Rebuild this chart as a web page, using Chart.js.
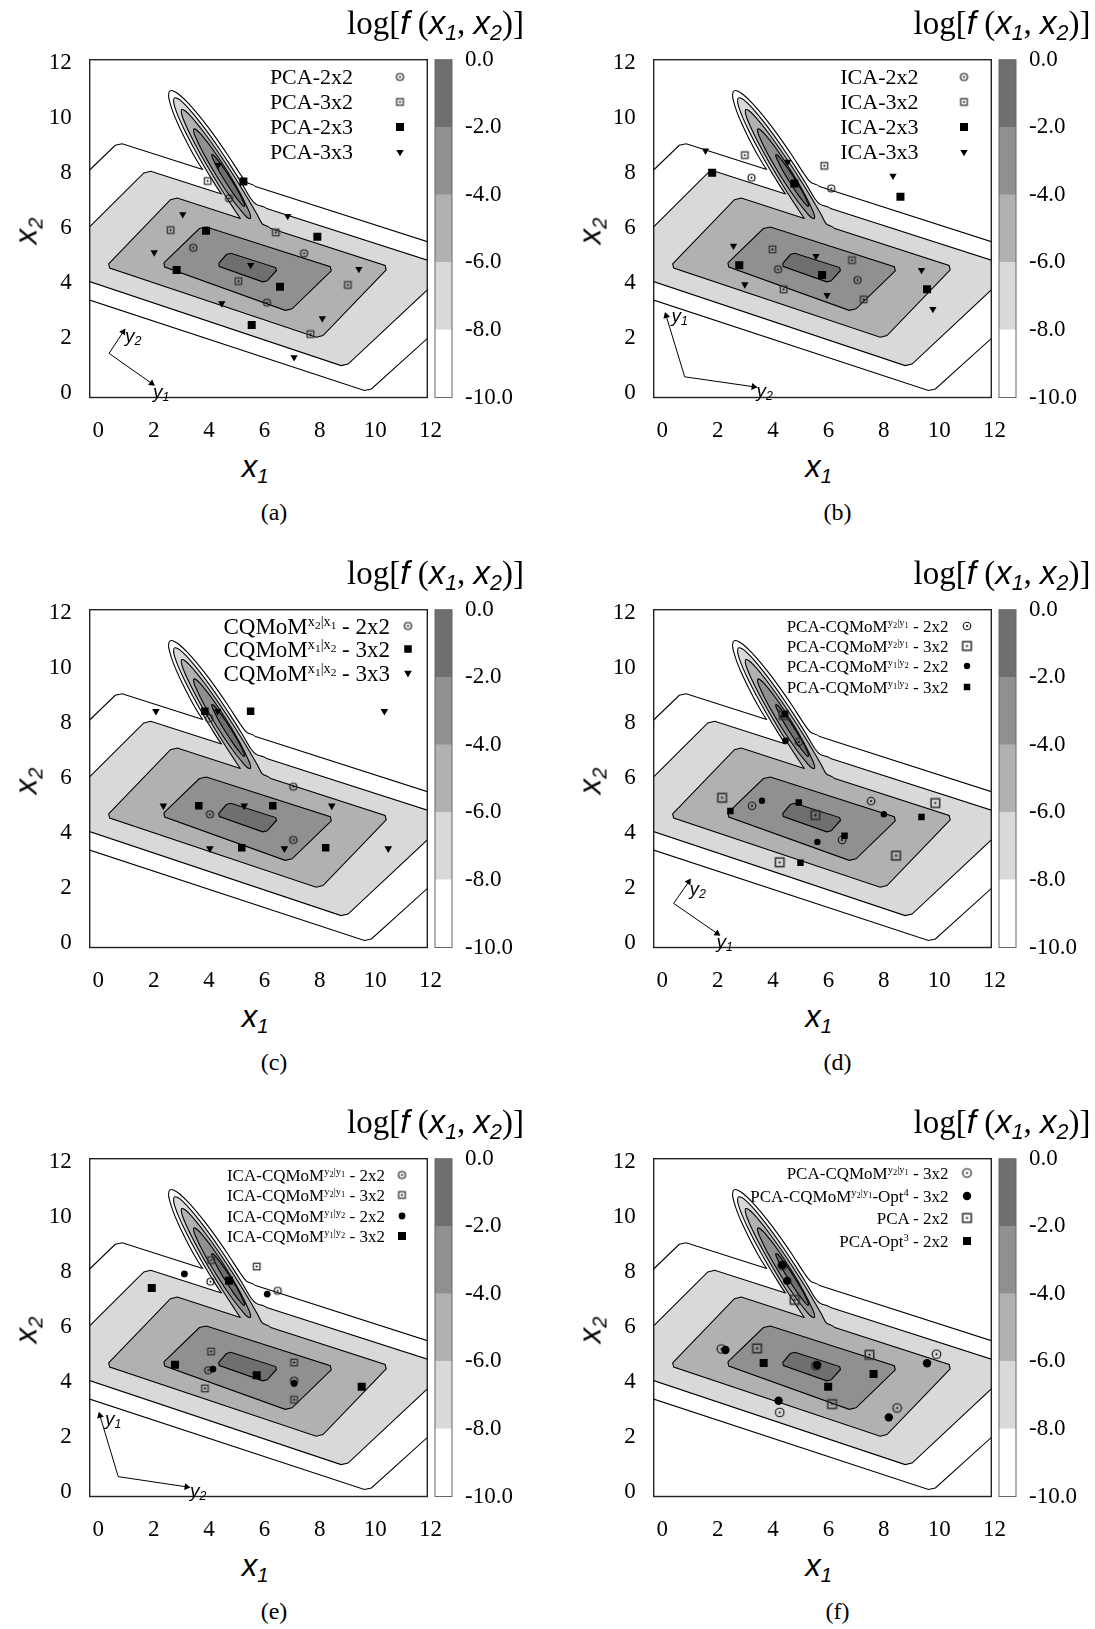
<!DOCTYPE html>
<html>
<head>
<meta charset="utf-8">
<script src="https://cdn.jsdelivr.net/npm/chart.js@4.4.1/dist/chart.umd.min.js"></script>
<style>
body { margin: 0; background: #fff; }
#page { position: relative; width: 1095px; height: 1629px; overflow: hidden; font-family: "Liberation Serif", serif; color: #000; }
canvas { position: absolute; }
.t { position: absolute; white-space: nowrap; line-height: 1; }
.sf { font-family: "Liberation Sans", sans-serif; font-style: italic; }
.t sub { font-size: 0.65em; vertical-align: -0.3em; line-height: 0; }
.t sup { font-size: 0.62em; vertical-align: 0.55em; line-height: 0; }
.t sup sub { font-size: 0.8em; vertical-align: -0.3em; }
</style>
</head>
<body>
<div id="page"></div>
<script>
// contour plot of log f(x1,x2) with quadrature nodes, six panels
const xTicks = [0, 2, 4, 6, 8, 10, 12];
const yTicks = [0, 2, 4, 6, 8, 10, 12];
const levels = [-10, -8, -6, -4, -2, 0];
const bandColors = ['#ffffff', '#d9d9d9', '#b1b1b1', '#909090', '#6f6f6f'];

// contour outlines (x1, x2)
const bg10 = [[5.65,7.51],[14.74,4.58],[9.861,0.161],[9.608,0.107],[-3.94,4.58],[0.612,8.996],[0.863,9.054],[3.77,8.115]];
const bg8 = [[6.05,6.71],[12.73,4.555],[9.019,1.063],[8.768,1.008],[-1.80,4.55],[1.644,7.994],[1.893,8.054],[4.45,7.228]];
const bg6 = [[6.20,5.99],[10.357,4.636],[10.396,4.482],[8.114,2.098],[7.868,2.038],[0.412,4.542],[0.374,4.698],[2.606,7.022],[2.853,7.084],[5.13,6.341]];
const bg4 = [[2.368,4.734],[3.652,5.976],[3.903,6.034],[8.377,4.596],[8.413,4.445],[6.997,3.065],[6.749,3.011],[2.401,4.579],[2.368,4.734]];
const bg2 = [[4.345,4.706],[4.625,5.034],[4.785,5.079],[6.405,4.561],[6.433,4.456],[6.097,4.084],[5.936,4.043],[4.374,4.597],[4.345,4.706]];
const finger10 = [[4.20,7.60],[3.77,8.115],[3.48,8.578],[3.151,9.198],[2.889,9.742],[2.694,10.209],[2.569,10.604],[2.538,10.819],[2.59,10.97],[2.748,10.951],[2.929,10.828],[3.228,10.543],[3.563,10.162],[3.937,9.69],[4.35,9.122],[4.689,8.626],[5.123,7.955],[5.35,7.66],[5.65,7.51],[5.60,7.20]];
const finger8 = [[4.90,6.70],[4.45,7.228],[4.091,7.781],[3.735,8.384],[3.394,8.996],[3.12,9.532],[2.909,9.99],[2.766,10.372],[2.719,10.579],[2.749,10.716],[2.885,10.683],[3.05,10.55],[3.331,10.254],[3.65,9.864],[4.012,9.382],[4.413,8.808],[4.799,8.223],[5.172,7.631],[5.53,7.029],[5.72,6.84],[6.05,6.71],[6.00,6.30]];
const finger6 = [[5.50,5.85],[5.13,6.341],[4.869,6.734],[4.492,7.323],[4.127,7.921],[3.775,8.526],[3.441,9.143],[3.218,9.594],[3.06,9.967],[3.001,10.166],[3.014,10.292],[3.133,10.248],[3.286,10.107],[3.552,9.802],[3.859,9.405],[4.267,8.834],[4.657,8.253],[5.034,7.663],[5.399,7.066],[5.751,6.46],[5.92,6.15],[6.20,5.99],[6.10,5.60]];
const finger4 = [[5.489,6.332],[5.501,6.416],[5.442,6.606],[5.134,7.242],[4.650,8.071],[4.117,8.870],[3.679,9.425],[3.535,9.561],[3.454,9.588],[3.442,9.503],[3.501,9.314],[3.809,8.677],[4.294,7.848],[4.826,7.049],[5.264,6.494],[5.408,6.358],[5.489,6.332]];
const finger2 = [[5.280,6.779],[5.285,6.826],[5.248,6.934],[5.067,7.300],[4.785,7.778],[4.479,8.241],[4.229,8.564],[4.148,8.644],[4.104,8.661],[4.100,8.614],[4.136,8.506],[4.317,8.140],[4.599,7.662],[4.905,7.199],[5.155,6.876],[5.236,6.796],[5.280,6.779]];

// (a)
const pca2x2 = [[4.72,7.07],[3.43,5.28],[7.43,5.08],[6.09,3.29]];
const pca3x2 = [[3.95,7.70],[2.61,5.92],[6.41,5.84],[5.06,4.07],[9.01,3.93],[7.66,2.15]];
const pca2x3 = [[5.24,7.68],[3.89,5.90],[7.91,5.68],[2.83,4.47],[6.56,3.87],[5.54,2.48]];
const pca3x3 = [[4.33,8.28],[6.84,6.43],[3.05,6.49],[2.02,5.11],[5.50,4.65],[9.41,4.51],[4.46,3.26],[8.09,2.72],[7.07,1.31]];
// (b)
const ica2x2 = [[3.22,7.82],[6.10,7.43],[4.18,4.50],[7.05,4.11]];
const ica3x2 = [[2.98,8.64],[5.85,8.25],[3.98,5.22],[6.85,4.83],[4.38,3.77],[7.27,3.41]];
const ica2x3 = [[1.80,8.00],[4.77,7.61],[8.60,7.13],[2.78,4.65],[5.77,4.29],[9.56,3.78]];
const ica3x3 = [[1.56,8.80],[4.53,8.40],[8.33,7.89],[2.57,5.35],[5.55,4.98],[9.36,4.47],[2.98,3.95],[5.95,3.56],[9.77,3.06]];
// (c)
const cq21_2x2 = [[4.00,8.16],[7.04,5.68],[4.03,4.68],[7.04,3.75]];
const cq12_3x2 = [[3.85,8.42],[5.50,8.42],[3.63,4.99],[6.30,4.99],[5.18,3.47],[8.21,3.47]];
const cq12_3x3 = [[2.08,8.42],[4.31,8.42],[10.33,8.42],[2.35,4.99],[5.27,4.99],[8.43,4.99],[4.03,3.44],[6.72,3.44],[10.47,3.44]];
// (d)
const pcq21_2x2 = [[4.93,7.31],[3.24,4.99],[7.54,5.16],[6.49,3.75]];
const pcq21_3x2 = [[4.38,8.28],[2.16,5.28],[5.53,4.65],[9.86,5.09],[8.44,3.18],[4.24,2.94]];
const pcq12_2x2 = [[4.45,7.35],[3.60,5.17],[8.00,4.68],[5.60,3.68]];
const pcq12_3x2 = [[4.42,8.31],[2.46,4.80],[4.93,5.11],[9.36,4.58],[6.58,3.90],[4.99,2.92]];
// (e)
const icq21_2x2 = [[4.05,7.64],[6.48,7.31],[3.97,4.43],[7.07,4.05]];
const icq21_3x2 = [[4.07,8.42],[5.72,8.19],[4.07,5.11],[7.07,4.71],[3.85,3.77],[7.07,3.36]];
const icq12_2x2 = [[3.11,7.92],[6.10,7.19],[4.14,4.47],[7.07,3.95]];
const icq12_3x2 = [[1.93,7.41],[4.72,7.67],[2.77,4.63],[5.72,4.25],[9.51,3.83]];
// (f)
const fpcq21_3x2 = [[4.33,8.22],[2.13,5.20],[5.55,4.59],[9.90,5.01],[8.48,3.06],[4.24,2.90]];
const fpcq21opt4 = [[4.33,8.25],[4.51,7.67],[2.28,5.16],[5.59,4.62],[9.56,4.68],[4.20,3.32],[8.18,2.72]];
const fpca2x2 = [[4.78,6.98],[3.42,5.22],[7.48,4.99],[6.13,3.20]];
const fpcaopt3 = [[3.66,4.69],[7.63,4.29],[5.99,3.83]];

// rotated-frame arrows: origin, y1 tip, y2 tip
const axesA = {o: [0.39,1.45], y1: [1.93,0.36], y2: [0.90,2.23]};
const axesB = {o: [0.81,0.60], y1: [0.14,2.81], y2: [3.30,0.24]};
const axesD = {o: [0.41,1.45], y1: [1.98,0.36], y2: [0.95,2.23]};
const axesE = {o: [0.72,0.57], y1: [0.06,2.78], y2: [3.19,0.20]};

const y21 = 'y<sub>2</sub>|y<sub>1</sub>';
const y12 = 'y<sub>1</sub>|y<sub>2</sub>';

const panels = [
  {cap: '(a)', ox: 0, oy: 0, font: 22, textRight: 353, symX: 400, rows: [77, 102, 127, 152], axes: axesA,
   lab: [['y<sub>2</sub>', 125, 335], ['y<sub>1</sub>', 153, 391]],
   series: [
     {html: 'PCA-2x2', data: pca2x2, kind: 'circdot', size: 7},
     {html: 'PCA-3x2', data: pca3x2, kind: 'sqdot', size: 6.5},
     {html: 'PCA-2x3', data: pca2x3, kind: 'sq', size: 8},
     {html: 'PCA-3x3', data: pca3x3, kind: 'tri', size: 4.2}]},
  {cap: '(b)', ox: 563.5, oy: 0, font: 22, textRight: 355, symX: 400, rows: [77, 102, 127, 152], axes: axesB,
   lab: [['y<sub>1</sub>', 108, 315], ['y<sub>2</sub>', 193, 390]],
   series: [
     {html: 'ICA-2x2', data: ica2x2, kind: 'circdot', size: 7},
     {html: 'ICA-3x2', data: ica3x2, kind: 'sqdot', size: 6.5},
     {html: 'ICA-2x3', data: ica2x3, kind: 'sq', size: 8},
     {html: 'ICA-3x3', data: ica3x3, kind: 'tri', size: 4.2}]},
  {cap: '(c)', ox: 0, oy: 550, font: 23, textRight: 390, symX: 408, rows: [76, 99, 123], axes: null, lab: [],
   series: [
     {html: 'CQMoM<sup>x<sub>2</sub>|x<sub>1</sub></sup> - 2x2', data: cq21_2x2, kind: 'circdot', size: 7},
     {html: 'CQMoM<sup>x<sub>1</sub>|x<sub>2</sub></sup> - 3x2', data: cq12_3x2, kind: 'sq', size: 7.5},
     {html: 'CQMoM<sup>x<sub>1</sub>|x<sub>2</sub></sup> - 3x3', data: cq12_3x3, kind: 'tri', size: 4.4}]},
  {cap: '(d)', ox: 563.5, oy: 550, font: 17, textRight: 385, symX: 403, rows: [76, 96, 116, 137], axes: axesD,
   lab: [['y<sub>2</sub>', 126, 338], ['y<sub>1</sub>', 153, 391]],
   series: [
     {html: 'PCA-CQMoM<sup>' + y21 + '</sup> - 2x2', data: pcq21_2x2, kind: 'circdot', size: 7.5},
     {html: 'PCA-CQMoM<sup>' + y21 + '</sup> - 3x2', data: pcq21_3x2, kind: 'sqdot', size: 8.5},
     {html: 'PCA-CQMoM<sup>' + y12 + '</sup> - 2x2', data: pcq12_2x2, kind: 'dot', size: 3.2},
     {html: 'PCA-CQMoM<sup>' + y12 + '</sup> - 3x2', data: pcq12_3x2, kind: 'sq', size: 6.5}]},
  {cap: '(e)', ox: 0, oy: 1099, font: 17, textRight: 385, symX: 402, rows: [76, 96, 117, 137], axes: axesE,
   lab: [['y<sub>1</sub>', 105, 319], ['y<sub>2</sub>', 190, 391]],
   series: [
     {html: 'ICA-CQMoM<sup>' + y21 + '</sup> - 2x2', data: icq21_2x2, kind: 'circdot', size: 7},
     {html: 'ICA-CQMoM<sup>' + y21 + '</sup> - 3x2', data: icq21_3x2, kind: 'sqdot', size: 6.5},
     {html: 'ICA-CQMoM<sup>' + y12 + '</sup> - 2x2', data: icq12_2x2, kind: 'dot', size: 3.4},
     {html: 'ICA-CQMoM<sup>' + y12 + '</sup> - 3x2', data: icq12_3x2, kind: 'sq', size: 8}]},
  {cap: '(f)', ox: 563.5, oy: 1099, font: 17, textRight: 385, symX: 403, rows: [74, 97, 119, 142], axes: null, lab: [],
   series: [
     {html: 'PCA-CQMoM<sup>' + y21 + '</sup> - 3x2', data: fpcq21_3x2, kind: 'circdot', size: 8.5},
     {html: 'PCA-CQMoM<sup>' + y21 + '</sup>-Opt<sup>4</sup> - 3x2', data: fpcq21opt4, kind: 'dot', size: 4.2},
     {html: 'PCA - 2x2', data: fpca2x2, kind: 'sqdot', size: 8.5},
     {html: 'PCA-Opt<sup>3</sup> - 2x2', data: fpcaopt3, kind: 'sq', size: 8}]}
];

const page = document.getElementById('page');
const tickFont = {family: 'Liberation Serif', size: 23};
const xy = arr => arr.map(([x, y]) => ({x, y}));

function markImage(kind, size) {
  const c = document.createElement('canvas');
  const n = Math.ceil(size) + 4;
  c.width = c.height = n;
  const g = c.getContext('2d');
  const m = n / 2;
  g.fillStyle = '#000';
  if (kind === 'circdot') {
    g.strokeStyle = '#1a1a1a'; g.lineWidth = 1.2;
    g.beginPath(); g.arc(m, m, size / 2, 0, Math.PI * 2); g.stroke();
    g.beginPath(); g.arc(m, m, 1, 0, Math.PI * 2); g.fill();
  } else {
    g.strokeStyle = '#333'; g.lineWidth = size > 7 ? 1.6 : 1.3;
    g.strokeRect(m - size / 2, m - size / 2, size, size);
    g.fillRect(m - 0.9, m - 0.9, 1.8, 1.8);
  }
  return c;
}

function pointOpts(s) {
  if (s.kind === 'circdot' || s.kind === 'sqdot') return {pointStyle: markImage(s.kind, s.size), pointRadius: s.size / 2, pointRotation: 0};
  if (s.kind === 'sq') return {pointStyle: 'rect', pointRadius: s.size / Math.SQRT2, pointRotation: 0};
  if (s.kind === 'tri') return {pointStyle: 'triangle', pointRadius: s.size, pointRotation: 180};
  return {pointStyle: 'circle', pointRadius: s.size, pointRotation: 0};
}

function txt(html, x, y, css, anchor) {
  const d = document.createElement('div');
  d.className = 't';
  d.innerHTML = html;
  d.style.cssText += css;
  d.style.left = x + 'px';
  d.style.top = y + 'px';
  const tx = anchor === 'r' ? '-100%' : anchor === 'l' ? '0' : '-50%';
  d.style.transform = 'translate(' + tx + ',-50%)' + (anchor === 'rot' ? ' rotate(-90deg)' : '');
  page.appendChild(d);
}

const framePlugin = {
  id: 'frame',
  afterDatasetsDraw(chart, args, opts) {
    const {ctx, chartArea: a} = chart;
    ctx.save();
    ctx.strokeStyle = opts.color;
    ctx.lineWidth = opts.width;
    ctx.strokeRect(a.left, a.top, a.right - a.left, a.bottom - a.top);
    ctx.restore();
  }
};

const layers = [
  {pts: finger10, band: 0, order: 21, curve: true},
  {pts: bg10, band: 0, order: 20},
  {pts: finger8, band: 1, order: 19, curve: true},
  {pts: bg8, band: 1, order: 18},
  {pts: finger6, band: 2, order: 17, curve: true},
  {pts: bg6, band: 2, order: 16},
  {pts: finger4, band: 3, order: 15, curve: true},
  {pts: bg4, band: 3, order: 14},
  {pts: finger2, band: 4, order: 13, curve: true},
  {pts: bg2, band: 4, order: 12}
];

function buildPanel(p) {
  const cv = document.createElement('canvas');
  cv.width = 447; cv.height = 445;
  cv.style.left = p.ox + 'px'; cv.style.top = p.oy + 'px';
  page.appendChild(cv);

  p.series.forEach(s => { s.opts = pointOpts(s); });
  const datasets = p.series.map((s, i) => Object.assign({
    type: 'scatter', data: xy(s.data), order: -1 - i,
    backgroundColor: '#000', borderColor: '#000', borderWidth: 0
  }, s.opts));

  if (p.axes) {
    ['y1', 'y2'].forEach(k => {
      const o = p.axes.o, t = p.axes[k];
      const ang = Math.atan2(t[0] - o[0], t[1] - o[1]) * 180 / Math.PI;
      datasets.push({
        type: 'line', data: xy([o, t]), order: 1, borderColor: '#000', borderWidth: 1, fill: false,
        pointRadius: [0, 4], pointStyle: 'triangle', pointRotation: [0, ang],
        pointBackgroundColor: '#000', pointBorderWidth: 0
      });
    });
  }

  layers.forEach(l => {
    datasets.push({
      type: 'line', data: xy(l.pts), order: l.order, fill: 'shape',
      backgroundColor: bandColors[l.band], borderColor: '#000', borderWidth: 1.1,
      pointRadius: 0, tension: l.curve ? 0.3 : 0
    });
  });

  const legendMarks = {
    id: 'legendMarks',
    afterDraw(chart) {
      const ctx = chart.ctx;
      p.series.forEach((s, i) => {
        ctx.save();
        ctx.fillStyle = '#000'; ctx.strokeStyle = '#000';
        Chart.helpers.drawPoint(ctx, {pointStyle: s.opts.pointStyle, radius: s.opts.pointRadius,
          rotation: s.opts.pointRotation, borderWidth: 0}, p.symX, p.rows[i]);
        ctx.restore();
      });
    }
  };

  new Chart(cv, {
    type: 'scatter',
    data: {datasets},
    options: {
      responsive: false, animation: false, events: [],
      layout: {padding: {left: 0, right: 19.7, top: 59.7, bottom: 7.5}},
      plugins: {legend: {display: false}, tooltip: {enabled: false}, frame: {color: '#222', width: 1.4}},
      scales: {
        x: {
          type: 'linear', min: -0.31, max: 11.88,
          grid: {display: false, drawTicks: false}, border: {display: false},
          ticks: {font: tickFont, color: '#000', padding: 20, autoSkip: false, maxRotation: 0},
          afterBuildTicks: s => { s.ticks = xTicks.map(v => ({value: v})); },
          afterFit: s => { s.height = 40; s.paddingLeft = 0; s.paddingRight = 0; }
        },
        y: {
          type: 'linear', min: -0.15, max: 12.10,
          grid: {display: false, drawTicks: false}, border: {display: false},
          ticks: {font: tickFont, color: '#000', padding: 18, autoSkip: false},
          afterBuildTicks: s => { s.ticks = yTicks.map(v => ({value: v})); },
          afterFit: s => { s.width = 89.7; s.paddingTop = 0; s.paddingBottom = 0; }
        }
      }
    },
    plugins: [framePlugin, legendMarks]
  });

  // colour bar
  const cb = document.createElement('canvas');
  cb.width = 100; cb.height = 445;
  cb.style.left = (p.ox + 420) + 'px'; cb.style.top = p.oy + 'px';
  page.appendChild(cb);
  new Chart(cb, {
    type: 'bar',
    data: {
      labels: [''],
      datasets: bandColors.map((c, i) => ({
        data: [[levels[i], levels[i + 1]]], backgroundColor: c, borderWidth: 0,
        barPercentage: 1, categoryPercentage: 1, grouped: false
      }))
    },
    options: {
      responsive: false, animation: false, events: [],
      layout: {padding: {left: 15, right: 0, top: 59.7, bottom: 47.5}},
      plugins: {legend: {display: false}, tooltip: {enabled: false}, frame: {color: '#666', width: 1}},
      scales: {
        x: {display: false},
        y: {
          position: 'right', min: -10, max: 0,
          grid: {display: false, drawTicks: false}, border: {display: false},
          ticks: {stepSize: 2, padding: 13, font: tickFont, color: '#000', callback: v => v.toFixed(1)},
          afterFit: s => { s.width = 68; s.paddingTop = 0; s.paddingBottom = 0; }
        }
      }
    },
    plugins: [framePlugin]
  });

  // text
  const right = p.ox > 0;
  txt('log[<span class="sf">f</span> (<span class="sf">x<sub>1</sub></span>, <span class="sf">x<sub>2</sub></span>)]',
      p.ox + (right ? 527 : 524), p.oy + 23, 'font-size:33px;', 'r');
  txt('<span class="sf">x<sub>2</sub></span>', p.ox + 26, p.oy + 231, 'font-size:31px;', 'rot');
  txt('<span class="sf">x<sub>1</sub></span>', p.ox + 255, p.oy + 466, 'font-size:31px;', 'c');
  txt(p.cap, p.ox + 274, p.oy + 512, 'font-size:24px;', 'c');
  p.series.forEach((s, i) => txt(s.html, p.ox + p.textRight, p.oy + p.rows[i], 'font-size:' + p.font + 'px;', 'r'));
  p.lab.forEach(([h, x, y]) => txt('<span class="sf">' + h + '</span>', p.ox + x, p.oy + y, 'font-size:19px;', 'l'));
}

panels.forEach(buildPanel);
</script>
</body>
</html>
